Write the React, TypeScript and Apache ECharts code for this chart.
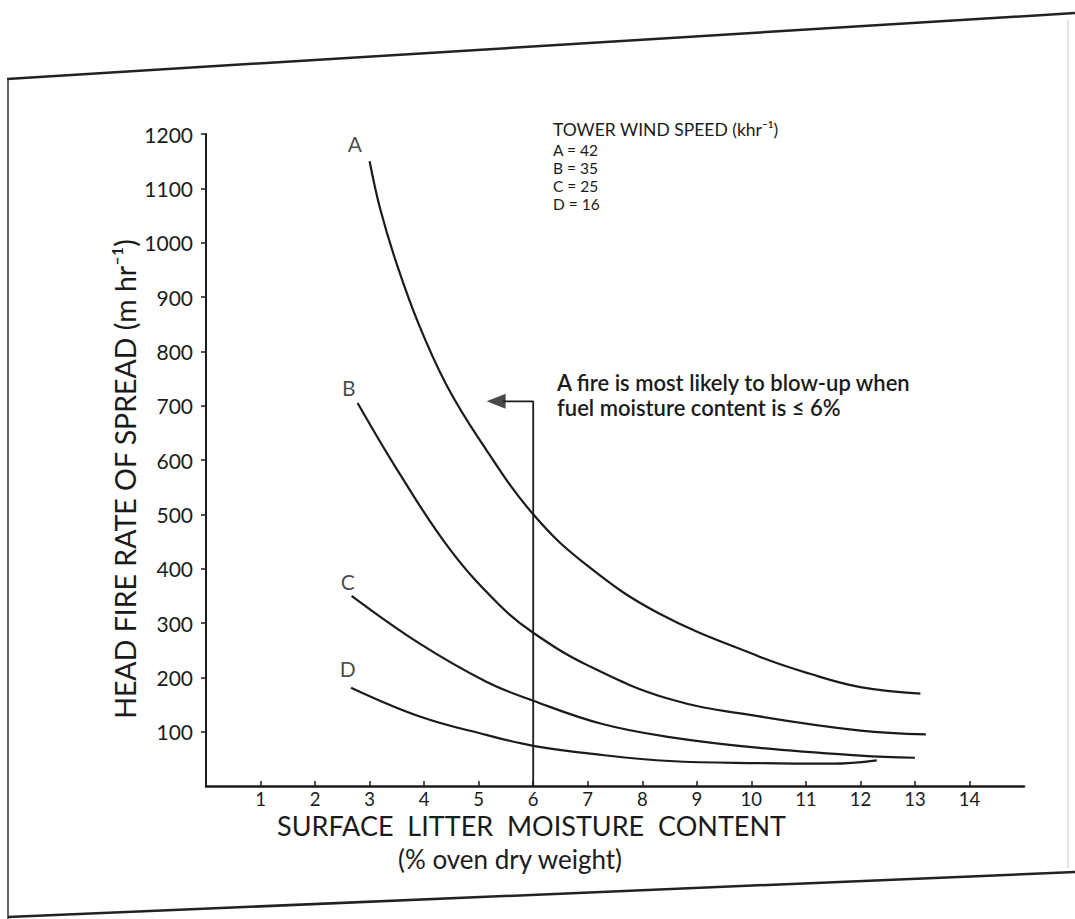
import React, { useEffect, useRef } from "react";
import * as echarts from "echarts";

// ---- data ----
const xTickValues = [1, 2, 3, 4, 5, 6, 7, 8, 9, 10, 11, 12, 13, 14];
const yTickValues = [100, 200, 300, 400, 500, 600, 700, 800, 900, 1000, 1100, 1200];

const curveA: [number, number][] = [
  [3.0, 1150], [3.2, 1060], [3.5, 960], [3.9, 850], [4.4, 740], [5.0, 640],
  [6.0, 500], [7.0, 405], [8.3, 318], [10.15, 238], [11.06, 207], [12.0, 182],
  [13.1, 170],
];
const curveB: [number, number][] = [
  [2.78, 705], [3.55, 575], [4.47, 436], [5.38, 333], [6.0, 282], [7.0, 222],
  [8.5, 160], [10.15, 128], [12.0, 102], [13.2, 95],
];
const curveC: [number, number][] = [
  [2.67, 350], [3.92, 262], [5.14, 192], [6.0, 157], [7.27, 114], [8.5, 90],
  [10.15, 70], [12.0, 56], [13.0, 52],
];
const curveD: [number, number][] = [
  [2.66, 181], [3.92, 128], [5.14, 94], [6.0, 74], [7.27, 57], [8.5, 46],
  [10.15, 42], [11.5, 41], [12.3, 47],
];

const curveNames = ["A", "B", "C", "D"];
const curveLabelX = [2.73, 2.62, 2.6, 2.6];
const curveLabelY = [1183, 733, 377, 217];

const windTitle = "TOWER WIND SPEED (khr\u207B\u00B9)";
const windSpeeds = [42, 35, 25, 16];

const thresholdMoisture = 6;
const arrowLevel = 708;
const arrowTip = 5.15;

const noteLines = [
  "A fire is most likely to blow-up when",
  "fuel moisture content is \u2264 6%",
];
const xTitle = "SURFACE  LITTER  MOISTURE  CONTENT";
const xSubTitle = "(% oven dry weight)";
const yTitle = "HEAD FIRE RATE OF SPREAD (m hr\u207B\u00B9)";

const FONT = "Lato, 'DejaVu Sans', sans-serif";
const INK = "#1b1b1b";

export default function App() {
  const ref = useRef<HTMLDivElement>(null);

  useEffect(() => {
    if (!ref.current) return;
    const chart = echarts.init(ref.current, undefined, { renderer: "svg" });

    const curveSeries = [curveA, curveB, curveC, curveD].map((d, i) => ({
      type: "line",
      name: curveNames[i],
      data: d,
      smooth: 0.4,
      showSymbol: false,
      symbol: "none",
      lineStyle: { color: INK, width: 2.2 },
      z: 3,
    }));

    const legendLines = curveNames.map((n, i) => ({
      type: "text",
      left: 553,
      top: 142 + i * 18,
      style: {
        text: `${n} = ${windSpeeds[i]}`,
        fontFamily: FONT,
        fontSize: 15.5,
        lineHeight: 16,
        fill: INK,
      },
    }));

    chart.setOption({
      animation: false,
      backgroundColor: "#ffffff",
      grid: { left: 206, right: 51, top: 134, bottom: 133, containLabel: false },
      xAxis: {
        type: "value",
        min: 0,
        max: 15,
        interval: 1,
        splitLine: { show: false },
        axisLine: { show: true, onZero: false, lineStyle: { color: INK, width: 2.5 } },
        axisTick: { show: true, inside: true, length: 5, lineStyle: { color: INK, width: 1.5 } },
        axisLabel: {
          showMinLabel: false,
          showMaxLabel: false,
          margin: 3,
          color: INK,
          fontFamily: FONT,
          fontSize: 18.5,
          lineHeight: 19,
          formatter: (v: number) => (xTickValues.includes(v) ? String(v) : ""),
        },
      },
      yAxis: {
        type: "value",
        min: 0,
        max: 1200,
        interval: 100,
        splitLine: { show: false },
        axisLine: { show: true, onZero: false, lineStyle: { color: INK, width: 2 } },
        axisTick: { show: true, inside: false, length: 5, lineStyle: { color: INK, width: 1.5 } },
        axisLabel: {
          showMinLabel: false,
          margin: 13,
          color: INK,
          fontFamily: FONT,
          fontSize: 21,
          formatter: (v: number) => (yTickValues.includes(v) ? String(v) : ""),
        },
      },
      series: [
        ...curveSeries,
        {
          type: "line",
          name: "threshold",
          data: [
            [thresholdMoisture, 0],
            [thresholdMoisture, arrowLevel],
            [arrowTip + 0.3, arrowLevel],
          ],
          symbol: "none",
          lineStyle: { color: INK, width: 1.8 },
          z: 2,
        },
        {
          type: "scatter",
          name: "arrowhead",
          data: [[arrowTip + 0.17, arrowLevel]],
          symbol: "triangle",
          symbolRotate: 90,
          symbolSize: [15, 19],
          itemStyle: { color: INK },
          z: 4,
        },
        {
          type: "scatter",
          name: "curve labels",
          data: curveNames.map((n, i) => ({ value: [curveLabelX[i], curveLabelY[i]], name: n })),
          symbolSize: 1,
          itemStyle: { color: "rgba(0,0,0,0)" },
          label: {
            show: true,
            position: "inside",
            formatter: (p: any) => p.name,
            color: INK,
            fontFamily: FONT,
            fontSize: 21,
          },
          z: 5,
        },
      ],
      graphic: [
        // scanned page frame
        { type: "polyline", shape: { points: [[7, 79], [1075, 13]] }, style: { stroke: "#222", lineWidth: 2.5, fill: null } },
        { type: "polyline", shape: { points: [[8, 79], [8, 919]] }, style: { stroke: "#333", lineWidth: 1.5, fill: null } },
        { type: "polyline", shape: { points: [[8, 917], [1075, 872]] }, style: { stroke: "#222", lineWidth: 2.5, fill: null } },
        { type: "polyline", shape: { points: [[1068, 20], [1068, 868]] }, style: { stroke: "#c8c8c8", lineWidth: 1, fill: null } },
        // legend of wind speeds
        {
          type: "text",
          left: 553,
          top: 120,
          style: { text: windTitle, fontFamily: FONT, fontSize: 17.5, fill: INK },
        },
        ...legendLines,
        // annotation
        {
          type: "text",
          left: 557,
          top: 371,
          style: {
            text: noteLines[0],
            fontFamily: FONT,
            fontSize: 22,
            fontWeight: 600,
            fill: INK,
          },
        },
        {
          type: "text",
          left: 557,
          top: 396,
          style: {
            text: noteLines[1],
            fontFamily: FONT,
            fontSize: 22,
            fontWeight: 600,
            fill: INK,
          },
        },
        // axis titles
        {
          type: "text",
          left: 277,
          top: 812,
          style: { text: xTitle, fontFamily: FONT, fontSize: 27, lineHeight: 27, fill: INK },
        },
        {
          type: "text",
          left: 398,
          top: 846,
          style: { text: xSubTitle, fontFamily: FONT, fontSize: 26, lineHeight: 26, fill: INK },
        },
        {
          type: "text",
          x: 125,
          y: 479,
          rotation: Math.PI / 2,
          style: {
            text: yTitle,
            fontFamily: FONT,
            fontSize: 28.5,
            fill: INK,
            align: "center",
            verticalAlign: "middle",
          },
        },
      ],
    });

    return () => chart.dispose();
  }, []);

  return (
    <div
      ref={ref}
      style={{ position: "fixed", left: 0, top: 0, width: 1075, height: 919, background: "#fff" }}
    />
  );
}
